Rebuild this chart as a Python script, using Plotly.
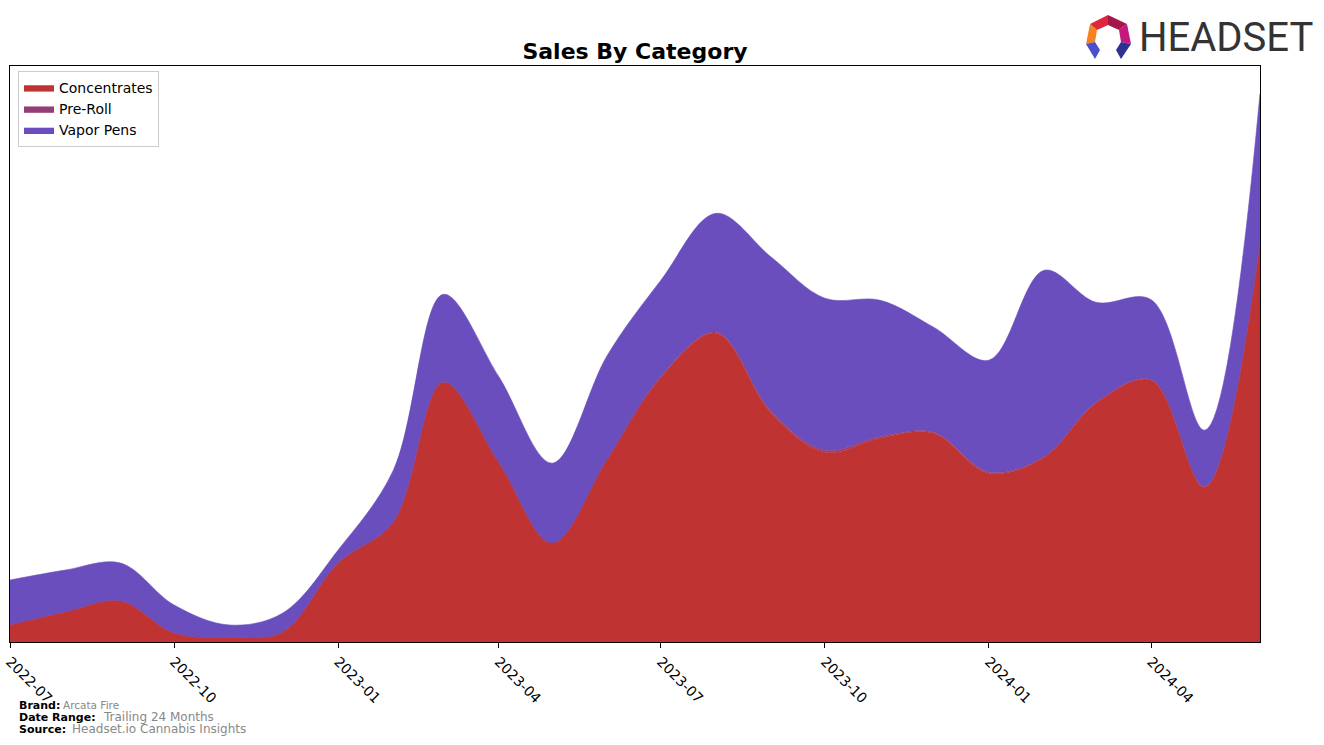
import plotly.graph_objects as go

# ---- data (monthly) ----
months = ["2022-07-01", "2022-08-01", "2022-09-01", "2022-10-01", "2022-11-01", "2022-12-01",
          "2023-01-01", "2023-02-01", "2023-03-01", "2023-04-01", "2023-05-01", "2023-06-01",
          "2023-07-01", "2023-08-01", "2023-09-01", "2023-10-01", "2023-11-01", "2023-12-01",
          "2024-01-01", "2024-02-01", "2024-03-01", "2024-04-01", "2024-05-01", "2024-06-01"]
concentrates = [17, 30, 41, 9, 4.5, 10, 79, 120, 260, 180, 99, 183,
                265, 309, 229, 190, 204, 209, 169, 185, 239, 262, 155, 399]
pre_roll = [0, 0, 0, 0, 0, 0, 0, 0, 0, 0, 0, 0,
            0.5, 1, 1.5, 2, 1.5, 1, 1, 0.5, 0.5, 0.5, 0.5, 0.5]
vapor_pens = [45, 42, 38, 28, 12.5, 19, 13, 52, 88, 86, 80, 104,
              96.5, 119, 154.5, 152, 136.5, 105, 112, 186.5, 100.5, 80, 56.5, 149.5]
tick_labels = ["2022-07", "2022-10", "2023-01", "2023-04", "2023-07", "2023-10", "2024-01", "2024-04"]
tick_vals = [t + "-01" for t in tick_labels]

series = [("Concentrates", concentrates, "#c03333"),
          ("Pre-Roll", pre_roll, "#943d76"),
          ("Vapor Pens", vapor_pens, "#6a4ebd")]

W, H = 1324, 745
L, R, T, B = 10, 1260, 66, 642


def px(x):
    return (x - L) / (R - L)


def py(y):
    return (B - y) / (B - T)


fig = go.Figure()
for name, vals, col in series:
    fig.add_trace(go.Scatter(
        x=months, y=vals, name=name, mode="lines", stackgroup="one",
        line=dict(color=col, width=0.6, shape="spline", smoothing=1.0),
        fillcolor=col,
    ))

totals = [a + b + c for a, b, c in zip(concentrates, pre_roll, vapor_pens)]
ymax = max(totals) * 1.05

fig.update_layout(
    width=W, height=H,
    margin=dict(l=L, r=W - R, t=T, b=H - B, autoexpand=False),
    paper_bgcolor="white", plot_bgcolor="white",
    font=dict(family="DejaVu Sans", size=13, color="black"),
    title=dict(text="<b>Sales By Category</b>", x=px(635), xref="paper", xanchor="center",
               y=1 - 51 / H, yanchor="middle", font=dict(size=22, family="DejaVu Sans")),
    showlegend=True,
    legend=dict(x=px(18), y=py(71), xanchor="left", yanchor="top",
                bgcolor="rgba(255,255,255,0.8)", bordercolor="#cccccc", borderwidth=1,
                font=dict(size=14, family="DejaVu Sans"), traceorder="normal",
                itemwidth=30, tracegroupgap=0),
    xaxis=dict(type="date", range=[months[0], months[-1]], tickvals=tick_vals, ticktext=tick_labels,
               tickangle=45, ticks="outside", ticklen=5, tickcolor="black", automargin=False,
               showline=True, linecolor="black", linewidth=1, mirror=True,
               showgrid=False, zeroline=False, tickfont=dict(size=14, family="DejaVu Sans")),
    yaxis=dict(range=[0, ymax], showticklabels=False, ticks="", showgrid=False, zeroline=False,
               automargin=False,
               showline=True, linecolor="black", linewidth=1, mirror=True),
)

# footer
foot = [
    (705, "<b>Brand:</b>", 17, 11, "black"),
    (705, "Arcata Fire", 61, 10.5, "#888888"),
    (717, "<b>Date Range:</b>", 17, 11, "black"),
    (717, "Trailing 24 Months", 101, 12, "#888888"),
    (729, "<b>Source:</b>", 17, 11, "black"),
    (729, "Headset.io Cannabis Insights", 70, 12, "#888888"),
]
for yy, txt, xx, fs, col in foot:
    fig.add_annotation(text=txt, x=px(xx), y=py(yy), xref="paper", yref="paper",
                       xanchor="left", yanchor="middle", showarrow=False,
                       font=dict(size=fs, color=col, family="DejaVu Sans"))

# logo text
fig.add_annotation(text="HEADSET", x=px(1137), y=py(38), xref="paper", yref="paper",
                   xanchor="left", yanchor="middle", showarrow=False,
                   font=dict(size=40, color="#333333", family="Roboto, sans-serif"))

# logo icon
polys = [
    ([(1090, 24), (1108, 15), (1108, 25), (1097, 30)], "#e0263a"),
    ([(1108, 15), (1127, 24), (1119, 30), (1108, 25)], "#a3174a"),
    ([(1127, 24), (1131, 44), (1121, 42), (1119, 30)], "#c4187e"),
    ([(1090, 24), (1097, 30), (1095, 42), (1086, 44)], "#f58220"),
    ([(1086, 44), (1095, 42), (1100, 50), (1095, 59)], "#4b4fcc"),
    ([(1131, 44), (1121, 42), (1116, 50), (1121, 59)], "#2e3192"),
]
for pts, col in polys:
    path = "M " + " L ".join(f"{px(a):.5f},{py(b):.5f}" for a, b in pts) + " Z"
    fig.add_shape(type="path", path=path, xref="paper", yref="paper",
                  fillcolor=col, line=dict(width=0), layer="above")

fig.write_html("out.html")
